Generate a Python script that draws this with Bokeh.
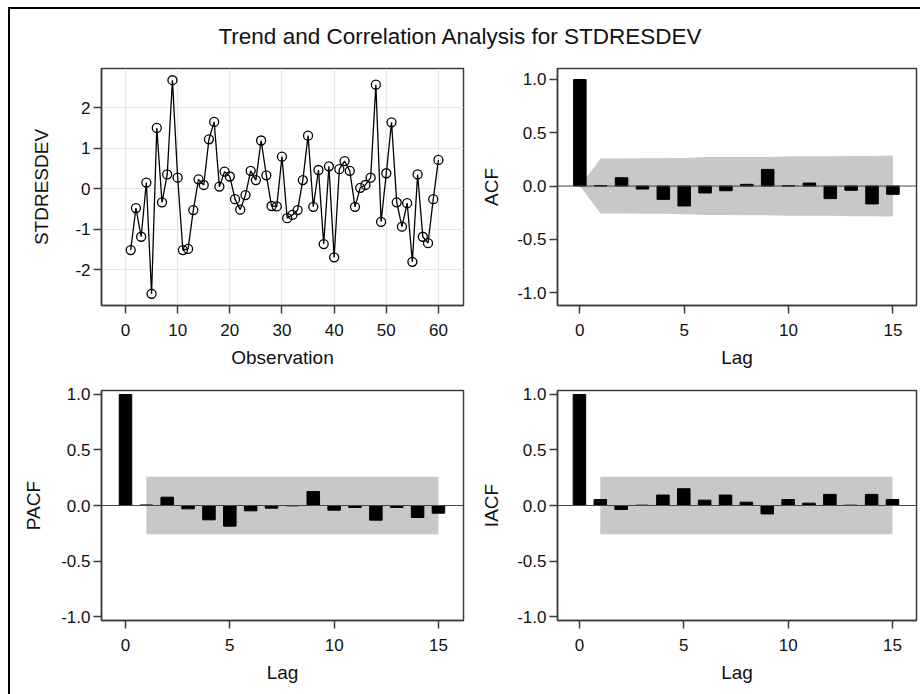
from bokeh.plotting import figure
from bokeh.layouts import column, row
from bokeh.models import Range1d, FixedTicker, PrintfTickFormatter, Span, Div, ColumnDataSource
from bokeh.embed import file_html
from bokeh.resources import INLINE

# ---------------- data ----------------
observation = list(range(1, 61))
stdresdev = [-1.52, -0.48, -1.19, 0.15, -2.60, 1.50, -0.34, 0.35, 2.68, 0.27,
             -1.52, -1.49, -0.53, 0.23, 0.09, 1.22, 1.65, 0.05, 0.42, 0.30,
             -0.26, -0.52, -0.16, 0.44, 0.21, 1.19, 0.33, -0.43, -0.44, 0.79,
             -0.73, -0.65, -0.53, 0.21, 1.31, -0.45, 0.46, -1.37, 0.55, -1.70,
             0.48, 0.68, 0.44, -0.45, 0.02, 0.09, 0.27, 2.57, -0.82, 0.38,
             1.64, -0.34, -0.94, -0.36, -1.81, 0.35, -1.19, -1.35, -0.26, 0.71]

lags = list(range(0, 16))
acf = [1.0, 0.005, 0.078, -0.028, -0.125, -0.187, -0.065, -0.044, 0.016, 0.156,
       0.003, 0.028, -0.118, -0.040, -0.168, -0.078]
acf_band = [0.0, 0.258, 0.258, 0.260, 0.260, 0.264, 0.272, 0.272, 0.273, 0.273,
            0.279, 0.279, 0.279, 0.283, 0.283, 0.286]

pacf = [1.0, 0.005, 0.075, -0.030, -0.129, -0.186, -0.048, -0.024, -0.003, 0.126,
        -0.042, -0.018, -0.132, -0.018, -0.108, -0.069]
iacf = [1.0, 0.054, -0.036, 0.003, 0.094, 0.151, 0.048, 0.094, 0.030, -0.076,
        0.054, 0.021, 0.100, 0.003, 0.100, 0.054]
band_lags = list(range(1, 16))
white_noise_band = [0.258] * 15

TITLE = "Trend and Correlation Analysis for STDRESDEV"

FONT = "Liberation Sans"
FRAME = "#3c3c3c"
BAND = "#c8c8c8"
TEXT = "#111111"


def style(p, xlabel, ylabel, ylab_standoff):
    p.background_fill_color = "white"
    p.border_fill_color = "white"
    p.outline_line_color = FRAME
    p.outline_line_width = 1.5
    for ax in (p.xaxis[0], p.yaxis[0]):
        ax.axis_line_color = FRAME
        ax.axis_line_width = 1.5
        ax.major_tick_line_color = FRAME
        ax.major_tick_line_width = 1.5
        ax.major_tick_out = 8
        ax.major_tick_in = 0
        ax.minor_tick_line_color = None
        ax.major_label_text_font = FONT
        ax.major_label_text_font_size = "17px"
        ax.major_label_text_color = TEXT
        ax.axis_label_text_font = FONT
        ax.axis_label_text_font_size = "19px"
        ax.axis_label_text_font_style = "normal"
        ax.axis_label_text_color = TEXT
    p.xaxis[0].axis_label = xlabel
    p.yaxis[0].axis_label = ylabel
    p.xaxis[0].major_label_standoff = 10
    p.xaxis[0].axis_label_standoff = 8
    p.yaxis[0].major_label_standoff = 3
    p.yaxis[0].axis_label_standoff = ylab_standoff


LEFT_W, RIGHT_W = 466, 444

# ---------------- trend plot ----------------
p1 = figure(width=LEFT_W, height=325, output_backend="svg", toolbar_location=None,
            x_range=Range1d(-4.6, 64.8), y_range=Range1d(-2.89, 2.97),
            min_border_left=91, min_border_right=13, min_border_top=17, min_border_bottom=70)
style(p1, "Observation", "STDRESDEV", 20)
p1.xaxis[0].ticker = FixedTicker(ticks=[0, 10, 20, 30, 40, 50, 60])
p1.yaxis[0].ticker = FixedTicker(ticks=[-2, -1, 0, 1, 2])
p1.yaxis[0].formatter = PrintfTickFormatter(format="%d")
p1.xgrid.ticker = FixedTicker(ticks=[0, 10, 20, 30, 40, 50, 60])
p1.ygrid.ticker = FixedTicker(ticks=[-2, -1, 0, 1, 2])
p1.grid.grid_line_color = "#e6e6e6"
p1.grid.grid_line_width = 1.2
src = ColumnDataSource(dict(x=observation, y=stdresdev))
p1.line("x", "y", source=src, line_color="black", line_width=1.3)
p1.scatter("x", "y", source=src, marker="circle", size=9, fill_color=None,
           line_color="black", line_width=1.3)


def corr_plot(values, band_x, band_y, ylabel, width, yr, xr, mbl, mbr, mbt, mbb, height, standoff):
    p = figure(width=width, height=height, output_backend="svg", toolbar_location=None,
               x_range=Range1d(*xr), y_range=Range1d(*yr),
               min_border_left=mbl, min_border_right=mbr, min_border_top=mbt,
               min_border_bottom=mbb)
    style(p, "Lag", ylabel, standoff)
    p.grid.visible = False
    p.xaxis[0].ticker = FixedTicker(ticks=[0, 5, 10, 15])
    p.yaxis[0].ticker = FixedTicker(ticks=[-1.0, -0.5, 0.0, 0.5, 1.0])
    p.yaxis[0].formatter = PrintfTickFormatter(format="%.1f")
    p.varea(x=band_x, y1=[-v for v in band_y], y2=band_y, fill_color=BAND, fill_alpha=1.0)
    p.add_layout(Span(location=0, dimension="width", line_color="#444444", line_width=1))
    p.vbar(x=lags, top=values, bottom=0, width=0.6, fill_color="black", line_color="black")
    return p


p2 = corr_plot(acf, lags, acf_band, "ACF", RIGHT_W, (-1.121, 1.103), (-1.07, 16.13),
               81, 4, 18, 69, 325, 12)
p3 = corr_plot(pacf, band_lags, white_noise_band, "PACF", LEFT_W, (-1.036, 1.036), (-1.15, 16.2),
               91, 13, 15, 74, 319, 14)
p4 = corr_plot(iacf, band_lags, white_noise_band, "IACF", RIGHT_W, (-1.036, 1.036), (-1.05, 16.15),
               81, 4, 15, 74, 319, 12)

title = Div(text=f"<div style='width:900px;text-align:center;font-family:\"{FONT}\";"
                 f"font-size:22.5px;line-height:26px;padding-top:15px;color:{TEXT}'>{TITLE}</div>",
            width=910, height=41, margin=0)

layout = column(title, row(p1, p2), row(p3, p4), spacing=0,
                styles={"border-left": "2px solid black", "border-top": "2px solid black",
                        "margin-left": "8px", "margin-top": "7px"})

open("out.html", "w").write(file_html(layout, INLINE))
